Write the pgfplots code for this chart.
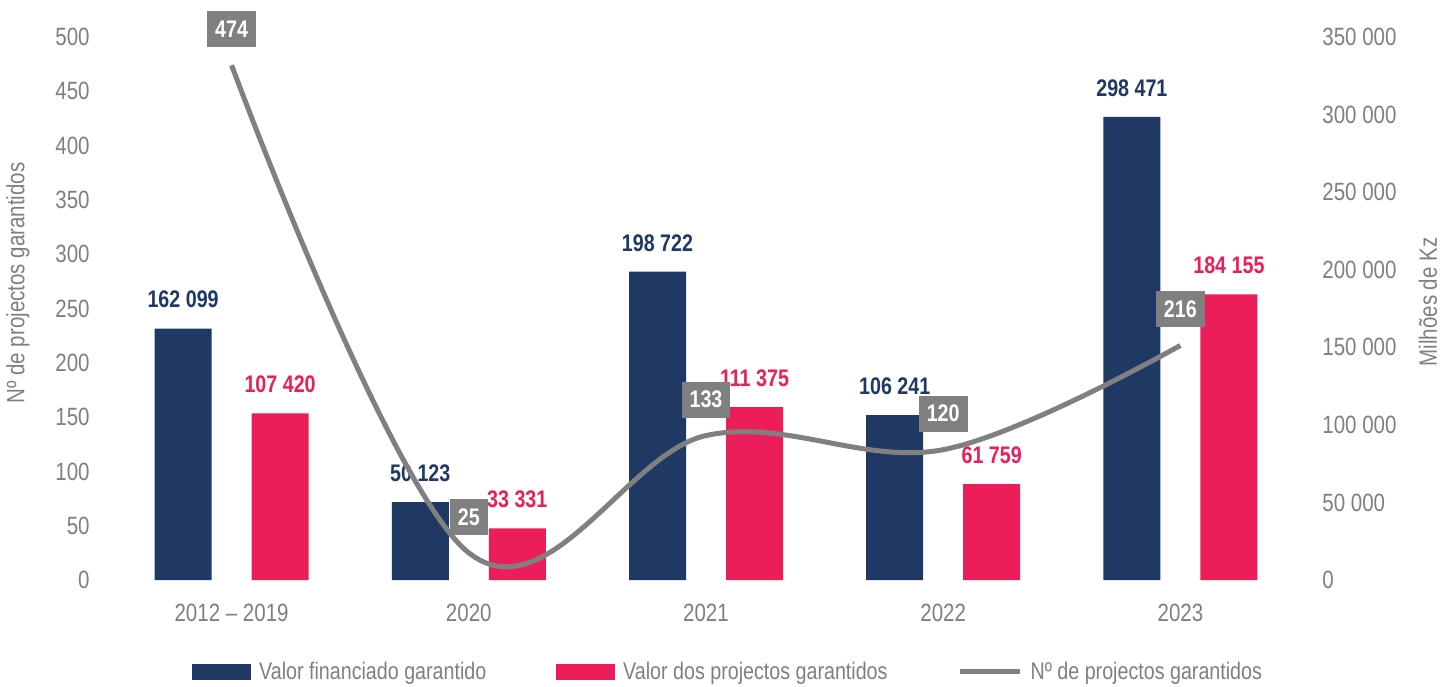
\documentclass[border=0pt]{standalone}
\usepackage{fontspec}
\setmainfont{Liberation Sans}[FakeStretch=0.82]
\usepackage{pgfplots}
\usepackage{pgfplotstable}
\pgfplotsset{compat=1.18}
\definecolor{navy}{HTML}{203864}
\definecolor{pinkc}{HTML}{EC1E59}
\definecolor{grayl}{HTML}{808080}
\definecolor{graytxt}{HTML}{7F7F7F}

\pgfplotstableread{
x fin proj n
0 162099 107420 474
1 50123 33331 25
2 198722 111375 133
3 106241 61759 120
4 298471 184155 216
}\datatab

\begin{document}
\begin{tikzpicture}
\useasboundingbox (-56.5pt,-53pt) rectangle (668.5pt,290pt);
\pgfplotsset{common/.style={
  width=593pt, height=271.5pt, scale only axis,
  at={(0pt,0pt)}, anchor=south west,
  xmin=-0.5, xmax=4.5,
  axis line style={draw=none}, major tick length=0pt,
  /pgf/number format/assume math mode=true,
  tick label style={font=\fontsize{12.5}{14}\selectfont, text=graytxt},
  clip=false}}
\begin{axis}[common,
  ymin=0, ymax=350000, ytick={0,50000,...,350000},
  axis y line*=right, scaled y ticks=false,
  yticklabel style={/pgf/number format/.cd, fixed, 1000 sep={\ }, /tikz/.cd, anchor=west, inner sep=0pt, xshift=11.5pt},
  xtick={0,1,2,3,4}, xticklabels={2012 – 2019,2020,2021,2022,2023},
  xticklabel style={anchor=north, inner sep=0pt, yshift=-12pt},
  nodes near coords={\pgfmathprintnumber[fixed,precision=0,1000 sep={\ }]{\pgfplotspointmeta}},
  ]
\addplot[ybar, bar width=28.5pt, bar shift=-24.25pt, fill=navy, draw=none,
  every node near coord/.append style={anchor=south, inner sep=0pt, yshift=10pt, xshift=-24.25pt, text=navy, font=\bfseries\fontsize{12}{14}\selectfont}]
  table[x=x, y=fin]{\datatab};
\addplot[ybar, bar width=28.5pt, bar shift=24.25pt, fill=pinkc, draw=none,
  every node near coord/.append style={anchor=south, inner sep=0pt, yshift=10pt, xshift=24.25pt, text=pinkc, font=\bfseries\fontsize{12}{14}\selectfont}]
  table[x=x, y=proj]{\datatab};
\node[rotate=90, text=graytxt, font=\fontsize{12.5}{14}\selectfont] at (rel axis cs:1.1088,0.512) {Milhões de Kz};
\end{axis}
\begin{axis}[common,
  ymin=0, ymax=500, ytick={0,50,...,500},
  axis y line*=left, xtick=\empty,
  yticklabel style={anchor=east, inner sep=0pt, xshift=-11.5pt},
  legend style={draw=none, fill=none, inner sep=0pt, legend columns=3,
    at={(0.0666,-0.1694)}, anchor=west,
    font=\fontsize{12}{14}\selectfont, text=graytxt,
    nodes={inner sep=0pt},
    /tikz/every odd column/.append style={column sep=4pt},
    /tikz/every even column/.append style={column sep=35pt}},
  ]
\addlegendimage{legend image code/.code={\fill[navy] (0pt,-3.75pt) rectangle (29pt,3.75pt);}}
\addlegendentry{Valor financiado garantido}
\addlegendimage{legend image code/.code={\fill[pinkc] (0pt,-3.75pt) rectangle (29pt,3.75pt);}}
\addlegendentry{Valor dos projectos garantidos}
\addplot[grayl, line width=2.5pt, smooth, tension=0.6,
  legend image code/.code={\draw[grayl, line width=2.5pt] (0pt,0pt) -- (30pt,0pt);},
  nodes near coords,
  every node near coord/.append style={anchor=center, fill=grayl, text=white, yshift=18pt,
    font=\bfseries\fontsize{12}{14}\selectfont, minimum height=18pt, inner xsep=4pt, inner ysep=0pt}]
  table[x=x, y=n]{\datatab};
\addlegendentry{Nº de projectos garantidos}
\node[rotate=90, text=graytxt, font=\fontsize{12.5}{14}\selectfont] at (rel axis cs:-0.0801,0.547) {Nº de projectos garantidos};
\end{axis}
\end{tikzpicture}
\end{document}
